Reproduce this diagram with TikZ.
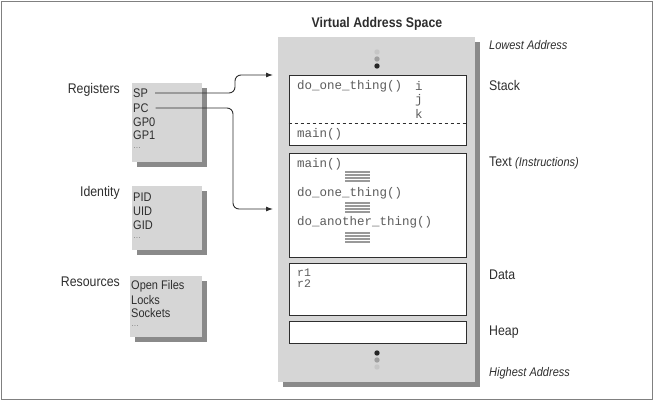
\documentclass[tikz,border=0pt]{standalone}
\usepackage{fontspec}
\setmainfont{Liberation Sans}[FakeStretch=0.88]
\setmonofont{Liberation Mono}
\usetikzlibrary{positioning,arrows.meta,shadows}

\definecolor{boxgray}{HTML}{D6D6D6}
\definecolor{shadegray}{HTML}{8A8A8A}
\definecolor{inkgray}{HTML}{2E2E2E}
\definecolor{codegray}{HTML}{5C5C5C}

\begin{document}
\begin{tikzpicture}[x=1pt, y=-1pt,
	every node/.style={inner sep=1pt, text=inkgray},
	panel/.style={fill=boxgray, inner sep=0pt,
		drop shadow={shadow xshift=5pt, shadow yshift=-5pt, fill=shadegray, opacity=1}},
	seg/.style={draw=inkgray, fill=white, line width=0.8pt, inner sep=0pt},
	lbl/.style={font=\fontsize{14}{16}\selectfont},
	item/.style={anchor=west, font=\fontsize{12.5}{14}\selectfont},
	more/.style={anchor=west, inner sep=0pt, text=gray, font=\fontsize{9}{9}\selectfont},
	code/.style={anchor=west, text=codegray, font=\ttfamily\fontsize{12.5}{14}\selectfont},
	conn/.style={draw=inkgray, line width=0.9pt, rounded corners=6pt, -{Latex[length=7pt,width=5pt]}}]
	\useasboundingbox (0,0) rectangle (654,405);
	\draw[gray, line width=0.8pt] (1.5,1.5) rectangle (652.5,399);

	% virtual address space
	\node[font=\bfseries\fontsize{14}{16}\selectfont] (title) at (377,24) {Virtual Address Space};
	\node[panel, minimum width=197pt, minimum height=345pt] (vas) at (376.5,209.5) {};

	\node[seg, minimum width=177pt, minimum height=70pt] (stack) at (377.5,110) {};
	\node[seg, minimum width=177pt, minimum height=104pt] (text) at (377.5,205) {};
	\node[seg, minimum width=177pt, minimum height=52pt] (data) at (377.5,289) {};
	\node[seg, minimum width=177pt, minimum height=22pt] (heap) at (377.5,332) {};
	\draw[inkgray, dashed, line width=0.8pt] (stack.west |- 0,123) -- (stack.east |- 0,123);

	\fill[gray!45] (377,52) circle (2.7pt);
	\fill[gray!75] (377,59) circle (2.7pt);
	\fill[black!85] (377,66) circle (2.7pt);
	\fill[black!85] (377,353) circle (2.7pt);
	\fill[gray!75] (377,360) circle (2.7pt);
	\fill[gray!45] (377,367) circle (2.7pt);

	\node[code] (fone) at (296,86) {do\_one\_thing()};
	\node[code] (vi) at (414,86) {i};
	\node[code] (vj) at (414,100) {j};
	\node[code] (vk) at (414,114) {k};
	\node[code] (smain) at (296,134) {main()};

	\node[code] (tmain) at (296,164) {main()};
	\node[code] (tone) at (296,193) {do\_one\_thing()};
	\node[code] (tanother) at (296,222) {do\_another\_thing()};
	\foreach \y in {172,203,233}
		\foreach \d in {0,3,6,9}
			\draw[gray!80, line width=1.2pt] (345,\y+\d) -- (370,\y+\d);

	\node[code, align=left, anchor=north west, inner sep=0pt,
		font=\ttfamily\fontsize{11.5}{11}\selectfont] (rvars) at (297,269) {r1\\r2};

	% segment names
	\node[anchor=west, font=\itshape\fontsize{12.5}{14}\selectfont] (low) at (488,45) {Lowest Address};
	\node[lbl, anchor=west] (lstack) at (488,85) {Stack};
	\node[lbl, anchor=west] (ltext) at (488,163) {Text {\itshape\fontsize{12.5}{14}\selectfont(Instructions)}};
	\node[lbl, anchor=west] (ldata) at (488,275) {Data};
	\node[lbl, anchor=west] (lheap) at (488,332) {Heap};
	\node[anchor=west, font=\itshape\fontsize{12.5}{14}\selectfont] (high) at (488,373) {Highest Address};

	% process parts
	\node[panel, minimum width=70pt, minimum height=79pt] (reg) at (167,122.5) {};
	\node[panel, minimum width=70pt, minimum height=64pt] (ident) at (167,218) {};
	\node[panel, minimum width=72pt, minimum height=61pt] (res) at (166,306.5) {};

	\node[lbl, anchor=east] (lreg) at (121,90) {Registers};
	\node[lbl, anchor=east] (lident) at (121,193) {Identity};
	\node[lbl, anchor=east] (lres) at (121,282) {Resources};

	\node[item] (sp) at (132,93) {SP};
	\node[item] (pc) at (132,108) {PC};
	\node[item] (gpz) at (132,122) {GP0};
	\node[item] (gpo) at (132,135) {GP1};
	\node[more] (rmore) at (133,148) {\dots};

	\node[item] (pid) at (132,197) {PID};
	\node[item] (uid) at (132,211) {UID};
	\node[item] (gid) at (132,225) {GID};
	\node[more] (imore) at (133,238) {\dots};

	\node[item] (files) at (130,286) {Open Files};
	\node[item] (locks) at (130,300) {Locks};
	\node[item] (sockets) at (130,313) {Sockets};
	\node[more] (smore) at (131,326) {\dots};

	% pointers
	\coordinate (stackin) at (273,75);
	\coordinate (textin) at (273,209);
	\draw[conn] ([xshift=6pt]sp.east) -- (235,93) -- (235,75) -- (stackin);
	\draw[conn] ([xshift=6pt]pc.east) -- (233,108) -- (233,209) -- (textin);
\end{tikzpicture}
\end{document}
